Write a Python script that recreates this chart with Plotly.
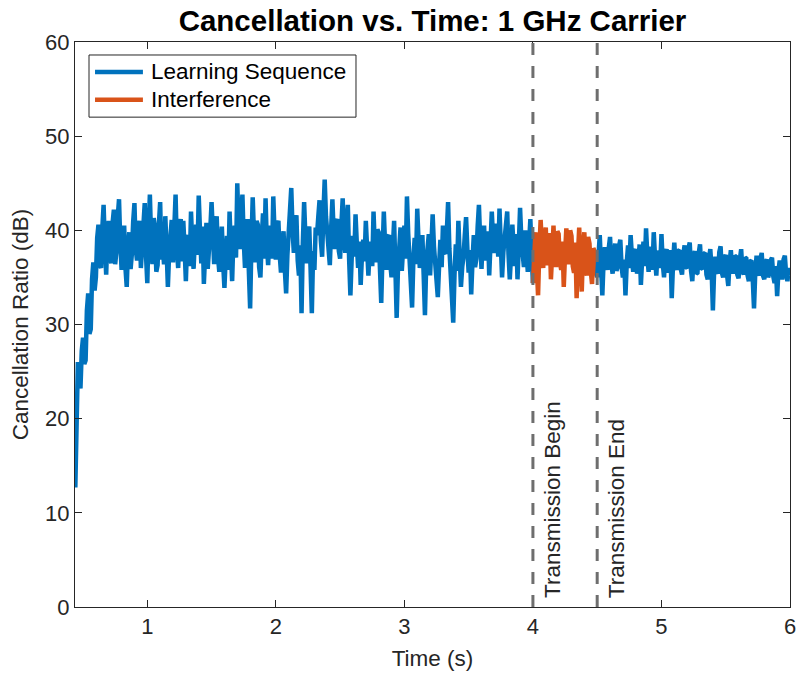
import numpy as np
import plotly.graph_objects as go

# Sampling of the recorded cancellation ratio (seconds)
SAMPLE_DT = 0.01
LEARN1_START = 0.44
INTERF_START = 4.00
LEARN2_START = 4.50

# Cancellation ratio (dB) while the learning sequence runs, 0.44 s .. 4.00 s
learning_before = [
    12.7, 24.0, 26.0, 25.0, 23.2, 27.2, 28.6, 25.8, 26.2, 31.5, 33.3, 29.0, 29.5, 34.8,
    36.6, 33.6, 35.0, 39.2, 40.6, 36.4, 36.0, 40.2, 42.7, 38.4, 35.3, 39.6, 41.0, 37.2,
    36.5, 40.8, 42.2, 36.4, 37.8, 41.4, 43.3, 38.6, 35.8, 39.1, 40.5, 36.0, 34.0, 38.3, 39.8, 35.9, 37.5, 40.9, 42.9, 38.0,
    36.8, 40.2, 41.0, 36.0, 38.2, 41.6, 42.9, 37.3, 34.4, 40.0, 43.8, 38.9, 36.4, 41.3, 40.2, 35.6, 36.3, 40.6, 43.0, 36.9,
    38.5, 36.4, 41.5, 38.0, 34.0, 37.6, 39.8, 41.1, 36.6, 40.3, 43.8, 38.2, 36.0, 39.4, 41.2, 36.7, 41.0, 38.1, 34.6, 38.8,
    39.5, 36.2, 42.0, 38.5, 35.9, 39.0, 40.6, 37.4, 43.7, 39.9, 36.5, 40.4, 34.3, 37.5, 40.8, 35.9, 37.6, 40.1, 43.0, 38.4,
    36.4, 39.6, 41.5, 37.2, 35.6, 38.4, 40.4, 36.5, 33.9, 37.1, 39.4, 35.8, 42.0, 38.0, 34.6, 39.2, 40.5, 37.1, 45.0, 40.2,
    38.0, 41.7, 43.8, 39.0, 36.0, 39.8, 41.2, 35.7, 31.7, 38.5, 43.5, 39.5, 36.6, 41.0, 40.6, 36.1, 35.0, 38.9, 41.8, 37.0,
    43.4, 38.6, 36.3, 39.5, 40.5, 37.0, 43.6, 39.8, 36.9, 40.7, 41.0, 37.4, 35.5, 38.3, 39.9, 35.8, 33.3, 37.4, 40.0, 41.9,
    44.5, 40.1, 37.6, 40.9, 41.6, 36.8, 35.2, 38.4, 31.2, 38.7, 43.0, 39.3, 36.5, 39.9, 40.4, 36.0, 31.2, 37.8, 35.8, 40.3,
    39.5, 41.4, 43.2, 38.9, 37.2, 41.8, 45.4, 41.5, 40.0, 37.5, 36.3, 40.1, 43.3, 39.7, 38.0, 40.8, 41.2, 37.8, 37.0, 40.6,
    43.4, 39.2, 37.6, 40.7, 42.7, 37.0, 33.1, 37.0, 39.4, 37.2, 41.7, 38.6, 36.0, 38.8, 34.2, 37.3, 39.0, 36.7, 41.0, 38.1,
    35.2, 37.9, 38.8, 36.2, 42.0, 38.3, 36.6, 40.1, 39.8, 35.9, 32.3, 37.6, 42.0, 38.4, 35.8, 39.3, 39.5, 36.5, 35.0, 38.0,
    41.0, 36.0, 30.7, 35.9, 38.2, 40.3, 35.7, 38.7, 40.5, 37.0, 43.6, 39.6, 37.1, 35.0, 31.8, 36.9, 39.2, 36.4, 42.3, 38.9,
    36.0, 38.1, 39.5, 35.3, 31.0, 36.5, 37.8, 39.6, 35.2, 38.0, 41.7, 38.3, 36.4, 35.5, 32.9, 36.2, 39.0, 36.1, 40.5, 37.7,
    37.5, 39.8, 43.0, 38.1, 35.5, 33.6, 30.2, 35.3, 38.5, 35.7, 41.0, 37.4, 34.0, 36.1, 37.2, 39.5, 41.4, 38.0, 35.5, 37.9,
    33.2, 36.8, 39.5, 36.1, 37.0, 40.4, 42.7, 38.8, 35.9, 39.3, 40.5, 36.8, 37.8, 39.9, 35.2, 38.6, 42.0, 39.1, 37.6, 40.7,
    40.2, 37.2, 42.3, 38.5, 35.0, 37.7, 39.5, 40.8, 42.0, 37.5, 34.8, 37.4, 40.6, 38.2, 36.2, 39.6, 34.8, 38.4, 42.4, 39.0,
    36.7, 36.1, 40.0, 37.0, 35.6, 38.5, 41.2, 37.5, 34.4,
]

# Cancellation ratio (dB) during the interfering transmission, 4.00 s .. 4.50 s
interference = [
    34.4, 37.9, 39.8, 36.2, 33.1, 38.0, 41.1, 38.4, 36.0, 39.2,
    40.3, 36.3, 37.2, 39.7, 34.8, 37.6, 40.5, 37.1, 36.1, 39.9,
    39.6, 36.6, 35.8, 38.8, 34.0, 37.5, 40.2, 38.1, 36.4, 40.0,
    39.4, 36.2, 35.5, 38.7, 32.8, 37.3, 40.3, 37.0, 33.5, 38.2,
    39.8, 36.0, 35.2, 39.3, 38.6, 35.7, 34.3, 38.1, 37.8, 36.0,
    35.0,
]

# Cancellation ratio (dB) after the transmission ends, 4.50 s .. 6.00 s
learning_after = [
    35.0, 37.6, 39.5, 36.1, 33.1, 36.8, 38.2, 37.0, 35.8, 38.1, 39.3, 36.4, 35.4, 37.2, 38.6, 35.7, 36.2, 38.3, 39.0, 36.1,
    35.0, 36.9, 33.1, 36.6, 38.4, 36.0, 39.5, 37.3, 35.6, 37.7, 38.0, 35.4, 36.4, 38.5, 34.2, 37.0, 38.8, 36.2, 40.2, 37.4,
    35.6, 37.9, 38.2, 35.8, 39.8, 37.1, 35.2, 37.8, 37.6, 36.0, 39.6, 36.5, 35.0, 37.5, 38.0, 35.5, 36.2, 37.9, 32.8, 36.4,
    38.7, 36.4, 35.8, 37.8, 37.9, 35.9, 35.3, 37.4, 38.4, 36.1, 36.0, 38.1, 38.7, 35.7, 34.6, 37.2, 37.8, 35.4, 35.5, 37.6,
    38.5, 36.0, 35.9, 37.5, 37.6, 35.3, 34.8, 37.0, 38.0, 35.9, 31.5, 35.8, 37.2, 35.8, 35.4, 37.7, 38.3, 35.5, 35.0, 37.1,
    37.4, 35.3, 34.1, 36.6, 37.9, 35.6, 35.6, 37.3, 37.2, 35.3, 34.9, 36.9, 38.0, 35.7, 35.3, 37.1, 37.0, 35.2, 34.6, 36.7,
    36.8, 34.9, 31.7, 35.6, 37.3, 35.6, 35.2, 37.0, 37.6, 35.2, 34.8, 36.6, 36.9, 35.0, 35.5, 36.8, 37.1, 35.1, 34.4, 36.2,
    33.0, 35.7, 36.8, 35.0, 35.0, 36.9, 37.3, 35.3, 34.6, 36.0, 35.2,
]

# Event markers (s) and their labels
event_times = [4.0, 4.5]
event_labels = ["Transmission Begin", "Transmission End"]

# Legend entries
legend_names = ["Learning Sequence", "Interference"]

x_ticks = [1, 2, 3, 4, 5, 6]
y_ticks = [0, 10, 20, 30, 40, 50, 60]
x_range = [0.4375, 6.0]
y_range = [0, 60]


def time_axis(start, values):
    return np.round(start + SAMPLE_DT * np.arange(len(values)), 4)


BLUE = "#0072BD"
ORANGE = "#D95319"
AXIS = "#262626"
FONT = "Liberation Sans, Arial, Helvetica, sans-serif"
LINE_W = 4.5

fig = go.Figure()
fig.add_trace(go.Scatter(
    x=time_axis(LEARN1_START, learning_before), y=learning_before,
    mode="lines", name=legend_names[0], showlegend=False,
    line=dict(color=BLUE, width=LINE_W),
))
fig.add_trace(go.Scatter(
    x=time_axis(INTERF_START, interference), y=interference,
    mode="lines", name=legend_names[1], showlegend=False,
    line=dict(color=ORANGE, width=LINE_W),
))
fig.add_trace(go.Scatter(
    x=time_axis(LEARN2_START, learning_after), y=learning_after,
    mode="lines", name=legend_names[0], showlegend=False,
    line=dict(color=BLUE, width=LINE_W),
))

# Dashed event markers drawn over the traces, with rotated labels
for t, label in zip(event_times, event_labels):
    fig.add_shape(
        type="line", xref="x", yref="paper", x0=t, x1=t, y0=0, y1=1,
        line=dict(color="#6e6e6e", width=3, dash="12px,11px"), layer="above",
    )
    fig.add_annotation(
        x=t, y=0, xref="x", yref="y", text=label, textangle=-90,
        xanchor="left", yanchor="bottom", xshift=5, yshift=7,
        showarrow=False, font=dict(family=FONT, size=22.5, color=AXIS),
    )

# Boxed legend in the upper-left corner of the axes
fig.add_shape(
    type="rect", xref="paper", yref="paper", x0=0.0196, x1=0.393, y0=0.867, y1=0.977,
    line=dict(color=AXIS, width=1), fillcolor="white", layer="above",
)
for name, color, yrow in zip(legend_names, [BLUE, ORANGE], [0.947, 0.898]):
    fig.add_shape(
        type="line", xref="paper", yref="paper", x0=0.028, x1=0.095, y0=yrow, y1=yrow,
        line=dict(color=color, width=LINE_W), layer="above",
    )
    fig.add_annotation(
        x=0.104, y=yrow, xref="paper", yref="paper", text=name,
        xanchor="left", yanchor="middle", showarrow=False,
        font=dict(family=FONT, size=22.5, color="black"),
    )

axis_common = dict(
    showline=True, linecolor=AXIS, linewidth=1, mirror="allticks",
    ticks="inside", ticklen=7, tickcolor=AXIS, tickwidth=1,
    showgrid=False, zeroline=False, automargin=False,
    tickfont=dict(family=FONT, size=22, color=AXIS),
)

fig.update_layout(
    width=799, height=673,
    margin=dict(l=75, r=9, t=42, b=66),
    paper_bgcolor="white", plot_bgcolor="white",
    title=dict(
        text="<b>Cancellation vs. Time: 1 GHz Carrier</b>",
        x=0.5, xref="paper", xanchor="center",
        y=1, yref="paper", yanchor="bottom", pad=dict(b=11),
        font=dict(family=FONT, size=29.5, color="black"),
    ),
    xaxis=dict(
        range=x_range, tickvals=x_ticks,
        title=dict(text="Time (s)", font=dict(family=FONT, size=22.5, color=AXIS), standoff=11),
        **axis_common,
    ),
    yaxis=dict(
        range=y_range, tickvals=y_ticks,
        title=dict(text="Cancellation Ratio (dB)", font=dict(family=FONT, size=22.5, color=AXIS), standoff=10),
        **axis_common,
    ),
    showlegend=False,
)

fig.write_html("out.html")
